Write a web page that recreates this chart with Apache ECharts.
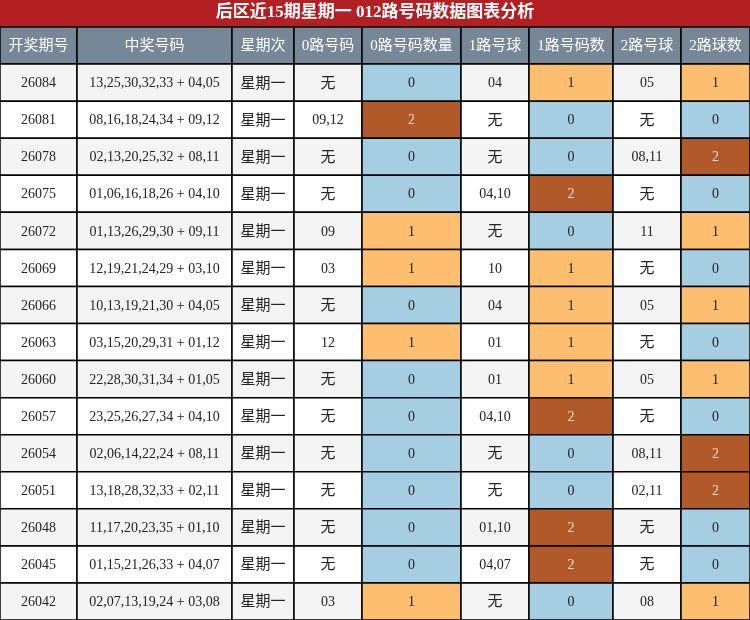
<!DOCTYPE html>
<html lang="zh">
  <head>
    <meta charset="UTF-8" />
    <title>后区近15期星期一 012路号码数据图表分析</title>
    <script src="https://cdn.jsdelivr.net/npm/echarts@6/dist/echarts.min.js"></script>
    <style>
      body { margin: 0; }
    </style>
  </head>
  <body>
    <div id="chart" style="width: 750px; height: 620px"></div>
    <script>
      const headers = ["开奖期号", "中奖号码", "星期次", "0路号码", "0路号码数量", "1路号球", "1路号码数", "2路号球", "2路球数"];
      const colWidths = [77, 155, 62, 68, 99, 68, 84, 68, 69];
      const issues = ["26084", "26081", "26078", "26075", "26072", "26069", "26066", "26063", "26060", "26057", "26054", "26051", "26048", "26045", "26042"];
      const draws = [
        "13,25,30,32,33 + 04,05", "08,16,18,24,34 + 09,12", "02,13,20,25,32 + 08,11",
        "01,06,16,18,26 + 04,10", "01,13,26,29,30 + 09,11", "12,19,21,24,29 + 03,10",
        "10,13,19,21,30 + 04,05", "03,15,20,29,31 + 01,12", "22,28,30,31,34 + 01,05",
        "23,25,26,27,34 + 04,10", "02,06,14,22,24 + 08,11", "13,18,28,32,33 + 02,11",
        "11,17,20,23,35 + 01,10", "01,15,21,26,33 + 04,07", "02,07,13,19,24 + 03,08"
      ];
      const weekday = "星期一";
      const zeroBalls = ["无", "09,12", "无", "无", "09", "03", "无", "12", "无", "无", "无", "无", "无", "无", "03"];
      const zeroCount = [0, 2, 0, 0, 1, 1, 0, 1, 0, 0, 0, 0, 0, 0, 1];
      const oneBalls = ["04", "无", "无", "04,10", "无", "10", "04", "01", "01", "04,10", "无", "无", "01,10", "04,07", "无"];
      const oneCount = [1, 0, 0, 2, 0, 1, 1, 1, 1, 2, 0, 0, 2, 2, 0];
      const twoBalls = ["05", "无", "08,11", "无", "11", "无", "05", "无", "05", "无", "08,11", "02,11", "无", "无", "08"];
      const twoCount = [1, 0, 2, 0, 1, 0, 1, 0, 1, 0, 2, 2, 0, 0, 1];

      const countColors = ["#a6cee3", "#fdbf6f", "#b15928"];
      const font = '"Liberation Serif", "Noto Sans CJK SC", serif';

      const colStart = [];
      colWidths.reduce((acc, w) => { colStart.push(acc); return acc + w; }, 0);

      // cells: [col, row, text, fill, textColor]
      const cells = [];
      headers.forEach((h, c) => cells.push([c, 0, h, "#768898", "#ffffff"]));
      issues.forEach((iss, i) => {
        const r = i + 1;
        const base = i % 2 === 0 ? "#f4f4f4" : "#ffffff";
        const cnt = (v) => countColors[v];
        const txt = (v) => (v === 2 ? "#f0e0d0" : "#222");
        cells.push([0, r, iss, base, "#222"]);
        cells.push([1, r, draws[i], base, "#222"]);
        cells.push([2, r, weekday, base, "#222"]);
        cells.push([3, r, zeroBalls[i], base, "#222"]);
        cells.push([4, r, String(zeroCount[i]), cnt(zeroCount[i]), txt(zeroCount[i])]);
        cells.push([5, r, oneBalls[i], base, "#222"]);
        cells.push([6, r, String(oneCount[i]), cnt(oneCount[i]), txt(oneCount[i])]);
        cells.push([7, r, twoBalls[i], base, "#222"]);
        cells.push([8, r, String(twoCount[i]), cnt(twoCount[i]), txt(twoCount[i])]);
      });

      const rows = ["header"].concat(issues);
      const chart = echarts.init(document.getElementById("chart"));
      chart.setOption({
        animation: false,
        backgroundColor: "#ffffff",
        graphic: [
          { type: "rect", left: 0, top: 0, shape: { width: 750, height: 27 }, style: { fill: "#b22024" } },
          {
            type: "text", left: "center", top: 4,
            style: { text: "后区近15期星期一 012路号码数据图表分析", fill: "#fff", font: "bold 17px " + font }
          }
        ],
        grid: { left: 0, right: 0, top: 27, bottom: 0 },
        xAxis: { type: "value", min: 0, max: 750, show: false },
        yAxis: { type: "category", data: rows, inverse: true, show: false },
        series: [{
          type: "custom",
          data: cells,
          renderItem: (params, api) => {
            const c = api.value(0), r = api.value(1);
            const d = cells[params.dataIndex];
            const h = api.size([0, 1])[1];
            const p0 = api.coord([colStart[c], r]);
            const p1 = api.coord([colStart[c] + colWidths[c], r]);
            const y = p0[1] - h / 2;
            return {
              type: "group",
              children: [
                { type: "rect", shape: { x: p0[0], y: y, width: p1[0] - p0[0], height: h },
                  style: { fill: d[3], stroke: "#000", lineWidth: 1.5 } },
                { type: "text", x: (p0[0] + p1[0]) / 2, y: p0[1] + 1,
                  style: { text: d[2], fill: d[4], align: "center", verticalAlign: "middle",
                    font: (r === 0 ? "15px " : (c === 2 || d[2] === "无" ? "15px " : "14px ")) + font } }
              ]
            };
          }
        }]
      });
    </script>
  </body>
</html>
